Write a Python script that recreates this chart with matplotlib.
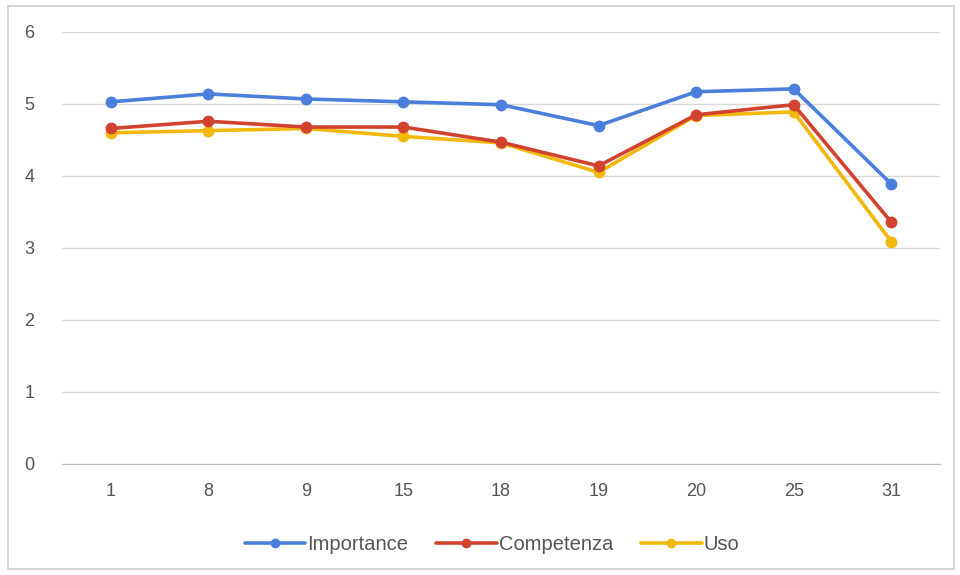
import numpy as np
import matplotlib
matplotlib.use("Agg")
import matplotlib.pyplot as plt
from matplotlib.patches import Rectangle

categories = ["1", "8", "9", "15", "18", "19", "20", "25", "31"]
importance = [5.03, 5.14, 5.07, 5.03, 4.99, 4.70, 5.17, 5.21, 3.89]
competenza = [4.66, 4.76, 4.68, 4.68, 4.47, 4.14, 4.85, 4.99, 3.36]
uso = [4.60, 4.63, 4.66, 4.55, 4.46, 4.05, 4.84, 4.89, 3.09]

series_names = ["Importance", "Competenza", "Uso"]
colors = ["#4a7fdc", "#d2432f", "#f3b80c"]

plt.rcParams["font.family"] = ["Liberation Sans", "DejaVu Sans"]

fig = plt.figure(figsize=(9.6, 5.75), dpi=100)
W, H = 960, 575
ax = fig.add_axes([62 / W, (H - 464) / H, (940 - 62) / W, (464 - 32) / H])

x = np.arange(len(categories))
# draw in reverse so blue ends on top
for vals, name, c in reversed(list(zip([importance, competenza, uso], series_names, colors))):
    ax.plot(x, vals, color=c, lw=2.6, marker="o", ms=7.5, label=name,
            solid_joinstyle="round", solid_capstyle="round")

ax.set_xlim(-0.5, len(categories) - 0.5)
ax.set_ylim(0, 6)
ax.set_yticks(range(0, 7))
ax.set_xticks(x)
ax.set_xticklabels(categories)
ax.grid(axis="y", color="#d9d9d9", lw=1)
ax.set_axisbelow(True)
for s in ["top", "right", "left"]:
    ax.spines[s].set_visible(False)
ax.spines["bottom"].set_color("#bdbdbd")
ax.tick_params(axis="both", length=0, labelsize=13, colors="#555555")
ax.tick_params(axis="y", pad=20)
ax.tick_params(axis="x", pad=14)

handles, labels = ax.get_legend_handles_labels()
handles, labels = handles[::-1], labels[::-1]
fig.legend(handles, labels, loc="center", bbox_to_anchor=(492 / W, (H - 545) / H),
           ncol=3, frameon=False, fontsize=14.5, handlelength=3.0, handletextpad=0.1,
           columnspacing=1.4, labelcolor="#555555", markerscale=0.8)

fig.patches.append(Rectangle((8 / W, 6 / H), (954 - 8) / W, (569 - 6) / H,
                             transform=fig.transFigure, fill=False,
                             edgecolor="#d0d0d0", lw=1.2))

plt.savefig("out.png", dpi=100)
